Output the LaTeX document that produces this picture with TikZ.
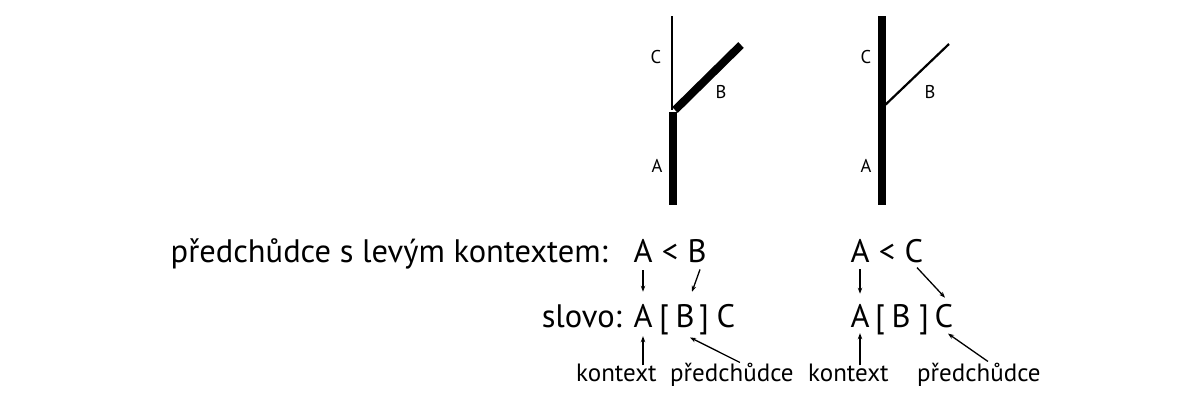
\documentclass[tikz,border=0pt]{standalone}
\usepackage{fontspec}
\setmainfont{PT Sans}
\usetikzlibrary{arrows.meta}
\begin{document}
\begin{tikzpicture}[x=1pt,y=-1pt,
  big/.style={font=\fontsize{32.5}{36}\selectfont, inner sep=0pt, anchor=base},
  small/.style={font=\fontsize{25}{29}\selectfont, inner sep=0pt, anchor=base},
  lbl/.style={font=\fontsize{18.5}{22}\selectfont, inner sep=0pt},
  thick branch/.style={line width=8pt, line cap=butt},
  thin branch/.style={line width=2.2pt, line cap=butt},
  arr/.style={line width=1.3pt, -{Stealth[length=6pt,width=4.5pt]}}]
\useasboundingbox (0,0) rectangle (1200,407);
% tree 1
\coordinate (t1top) at (672,16);
\coordinate (t1fork) at (672,110);
\coordinate (t1aTop) at (673,112);
\coordinate (t1bot) at (673,205);
\coordinate (t1bStart) at (675,110);
\coordinate (t1bEnd) at (741,45);
\draw[thin branch] (t1top) -- (t1fork);
\draw[thick branch] (t1aTop) -- (t1bot);
\draw[thick branch] (t1bStart) -- (t1bEnd);
\node[lbl] (t1C) at (656,57) {C};
\node[lbl] (t1B) at (721,92) {B};
\node[lbl] (t1A) at (657,166) {A};
% tree 2
\coordinate (t2top) at (882,16);
\coordinate (t2fork) at (882,108);
\coordinate (t2bot) at (882,205);
\coordinate (t2bEnd) at (949,44);
\draw[thick branch] (t2top) -- (t2bot);
\draw[thin branch] (t2fork) -- (t2bEnd);
\node[lbl] (t2C) at (866,57) {C};
\node[lbl] (t2B) at (930,92) {B};
\node[lbl] (t2A) at (866,166) {A};
% row 1
\node[big, anchor=base east] (pred) at (608,262) {předchůdce s levým kontextem:};
\node[big] (tA1) at (643,262) {A};
\node[big] (tL1) at (670,262) {<};
\node[big] (tB1) at (697,262) {B};
\node[big] (tA2) at (860,262) {A};
\node[big] (tL2) at (887,262) {<};
\node[big] (tC2) at (914,262) {C};
% row 2
\node[big, anchor=base east] (slovo) at (622,327) {slovo:};
\node[big] (sA1) at (643,327) {A};
\node[big] (sO1) at (664,327) {[};
\node[big] (sB1) at (685,327) {B};
\node[big] (sE1) at (704,327) {]};
\node[big] (sC1) at (726,327) {C};
\node[big] (sA2) at (860,327) {A};
\node[big] (sO2) at (880,327) {[};
\node[big] (sB2) at (901,327) {B};
\node[big] (sE2) at (924,327) {]};
\node[big] (sC2) at (944,327) {C};
% row 3
\node[small, anchor=base west] (k1) at (576,381) {kontext};
\node[small, anchor=base west] (p1) at (670,381) {předchůdce};
\node[small, anchor=base west] (k2) at (808,381) {kontext};
\node[small, anchor=base west] (p2) at (917,381) {předchůdce};
% arrows
\draw[arr] ([yshift=-8pt]tA1.south) -- ([yshift=12pt]sA1.north);
\draw[arr] ([xshift=3pt,yshift=-7pt]tB1.south) -- ([xshift=7pt,yshift=12pt]sB1.north);
\draw[arr] ([yshift=-7pt]tA2.south) -- ([yshift=10pt]sA2.north);
\draw[arr] ([xshift=3pt,yshift=-5pt]tC2.south) -- ([xshift=1pt,yshift=6pt]sC2.north);
\draw[arr] ([yshift=-2pt]k1.north -| sA1.south) -- ([yshift=-9pt]sA1.south);
\draw[arr] ([xshift=8pt,yshift=0pt]p1.north) -- ([xshift=5pt,yshift=-10pt]sB1.south);
\draw[arr] ([yshift=-2pt]k2.north -| sA2.south) -- ([yshift=-6pt]sA2.south);
\draw[arr] ([xshift=9pt,yshift=1pt]p2.north) -- ([xshift=4pt,yshift=-6pt]sC2.south);
\end{tikzpicture}
\end{document}
